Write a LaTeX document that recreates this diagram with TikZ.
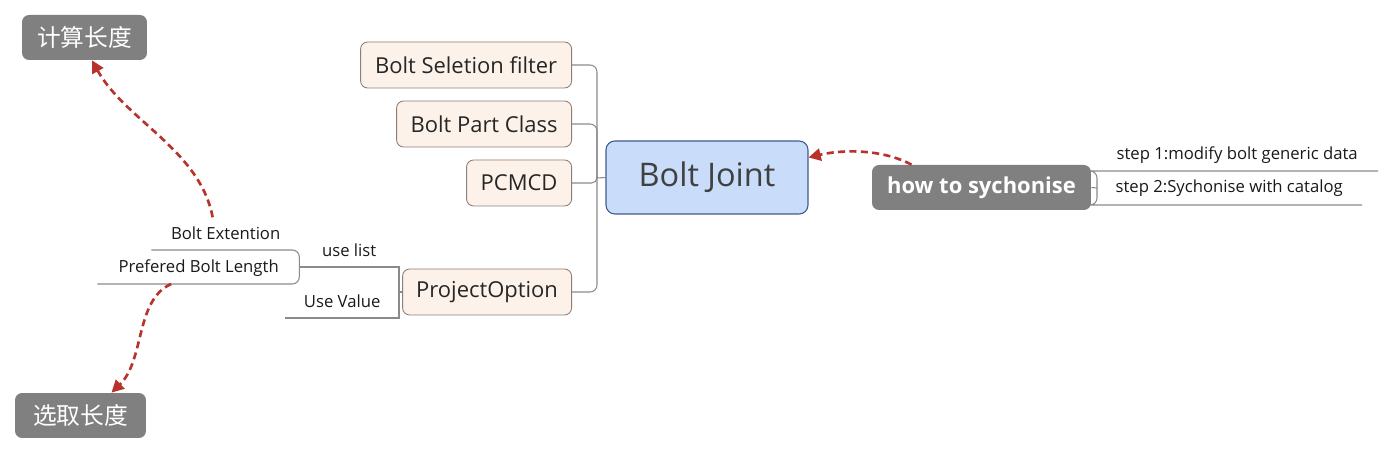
\documentclass[tikz,border=0pt]{standalone}
\usepackage{fontspec}
\setmainfont{Open Sans}
\newfontfamily\cjk{Noto Sans CJK SC}
\usetikzlibrary{arrows.meta}

\definecolor{topicfill}{HTML}{FDF2E9}
\definecolor{topicline}{HTML}{8C7F77}
\definecolor{jointfill}{HTML}{C9DCFA}
\definecolor{jointline}{HTML}{3F5A8C}
\definecolor{greybox}{HTML}{808080}
\definecolor{relred}{HTML}{B8312B}
\definecolor{connline}{HTML}{8A8A8A}

\tikzset{
	topic/.style={draw=topicline, fill=topicfill, rounded corners=4pt, line width=0.5pt,
		minimum height=0.92cm, anchor=east, font=\fontsize{12.5}{15}\selectfont, text=black!85},
	central/.style={draw=jointline, fill=jointfill, rounded corners=5pt, line width=0.6pt,
		minimum width=4.04cm, minimum height=1.46cm, font=\fontsize{18.5}{22}\selectfont, text=black!75},
	grey/.style={fill=greybox, rounded corners=4pt, minimum height=0.9cm, text=white},
	sub/.style={minimum height=0.64cm, inner ysep=1pt, anchor=south east,
		font=\fontsize{9.5}{11}\selectfont, text=black!90},
	conn/.style={draw=connline, line width=0.6pt},
	rel/.style={draw=relred, line width=1.5pt, dash pattern=on 4pt off 2.5pt,
		-{Triangle[length=7pt,width=7pt]}},
}

\begin{document}
\begin{tikzpicture}[x=0.02cm,y=-0.02cm]
	\useasboundingbox (0,0) rectangle (1394,455);

	% main topics
	\node (BJ) [central] at (707,177.5) {Bolt Joint};
	\node (BSF) [topic, minimum width=4.22cm] at (572,65) {Bolt Seletion filter};
	\node (BPC) [topic, minimum width=3.5cm] at (572,124) {Bolt Part Class};
	\node (PC) [topic, minimum width=2.1cm] at (572,183) {PCMCD};
	\node (PO) [topic, minimum width=3.38cm] at (572,292) {ProjectOption};
	\coordinate (hub) at (597,178);

	\draw [conn, rounded corners=4pt] (BSF.east) -| (hub);
	\draw [conn, rounded corners=4pt] (BPC.east) -| (hub);
	\draw [conn, rounded corners=3pt] (PC.east) -| (hub);
	\draw [conn, rounded corners=4pt] (PO.east) -| (hub);
	\draw [conn] (hub) -- (BJ.west);

	% project option
	\node (UL) [sub, minimum width=1.98cm] at (399,267) {use list};
	\node (UV) [sub, minimum width=2.26cm] at (399,318) {Use Value};
	\node (BE) [sub, minimum width=2.96cm] at (300,250) {Bolt Extention};
	\node (PBL) [sub, minimum width=4.04cm] at (300,284) {Prefered Bolt Length};
	\coordinate (pob) at (399,292);

	\draw [conn] (PO.west) -- (pob);
	\draw [conn] (pob) |- (UL.south west);
	\draw [conn] (pob) |- (UV.south west);
	\draw [conn, rounded corners=4pt] (UL.south west) |- (BE.south west);
	\draw [conn, rounded corners=4pt] (UL.south west) |- (PBL.south west);

	% sync
	\node (HS) [grey, minimum width=4.38cm, font=\fontsize{12.5}{15}\selectfont\bfseries] at (981.5,187.5) {how to sychonise};
	\node (S1) [sub, minimum width=5.62cm] at (1378,171) {step 1:modify bolt generic data};
	\node (S2) [sub, minimum width=5.3cm] at (1362,205) {step 2:Sychonise with catalog};
	\coordinate (hsb) at (1097,188);

	\draw [conn] (HS.east) -- (hsb);
	\draw [conn, rounded corners=4pt] (hsb) |- (S1.south west) -- (S1.south east);
	\draw [conn, rounded corners=4pt] (hsb) |- (S2.south west) -- (S2.south east);

	% length
	\node (JS) [grey, minimum width=2.5cm, font=\cjk\fontsize{13.5}{16}\selectfont] at (84.5,37.5) {计算长度};
	\node (XQ) [grey, minimum width=2.62cm, font=\cjk\fontsize{13.5}{16}\selectfont] at (80.5,415.5) {选取长度};

	\draw [rel] ([xshift=-0.26cm]BE.north) .. controls (200,150) and (125,120) .. ([xshift=0.15cm]JS.south);
	\draw [rel] ([xshift=-0.55cm]PBL.south) .. controls (135,300) and (145,360) .. ([xshift=0.62cm]XQ.north);
	\draw [rel] ([xshift=-1.4cm]HS.north) .. controls (880,148) and (840,150) .. ([yshift=0.4cm]BJ.east);
\end{tikzpicture}
\end{document}
